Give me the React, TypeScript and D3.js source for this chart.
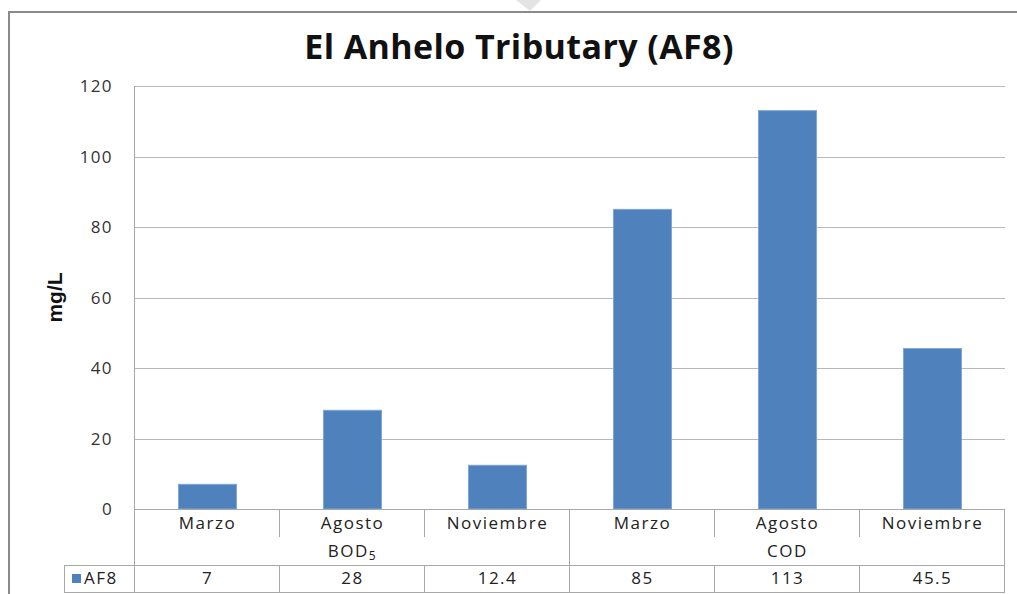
import React from 'react'
import * as d3 from 'd3'

// valores
const months = ['Marzo', 'Agosto', 'Noviembre', 'Marzo', 'Agosto', 'Noviembre']
const groups = ['BOD', 'COD']
const af8 = [7, 28, 12.4, 85, 113, 45.5]
const valueLabels = ['7', '28', '12.4', '85', '113', '45.5']
const yTicks = [0, 20, 40, 60, 80, 100, 120]

const W = 1017
const H = 594
const left = 135
const right = 1005
const top = 86
const bottom = 509
const blue = '#4F81BD'
const font = '"Open Sans", "DejaVu Sans", sans-serif'
const fs = 17
const ls = 1.5

export default function App() {
	const x = d3.scaleBand<number>().domain(d3.range(months.length)).range([left, right]).paddingInner(0).paddingOuter(0)
	const y = d3.scaleLinear().domain([0, 120]).range([bottom, top])
	const bw = x.bandwidth()
	const barW = bw * 0.4

	const row1 = bottom + 28
	const row2 = row1 + 28
	const row3 = row2 + 27

	return (
		<svg width={W} height={H} style={{ position: 'absolute', left: 0, top: 0, background: '#fff' }}>
			{/* marco exterior */}
			<polygon points="516,0 541,0 530,11" fill="#e4e4e4" />
			<line x1={8} y1={12} x2={W} y2={12} stroke="#8a8a8a" strokeWidth={2} />
			<line x1={9} y1={12} x2={9} y2={H} stroke="#8a8a8a" strokeWidth={2} />

			<text x={519} y={59} textAnchor="middle" fontFamily={font} fontWeight="bold" fontSize={34} letterSpacing={0.4} fill="#111">
				El Anhelo Tributary (AF8)
			</text>

			{/* grilla */}
			{yTicks.map(t => (
				<g key={t}>
					<line x1={left} x2={right} y1={Math.round(y(t)) + 0.5} y2={Math.round(y(t)) + 0.5} stroke="#b8b8b8" />
					<text x={113} y={y(t)} dy="0.36em" textAnchor="end" fontFamily={font} fontSize={fs} fill="#333" letterSpacing={1.4}>
						{t}
					</text>
				</g>
			))}
			<line x1={left - 0.5} x2={left - 0.5} y1={top} y2={row3} stroke="#a8a8a8" />

			<text transform={`translate(62,${(top + bottom) / 2}) rotate(-90)`} textAnchor="middle" fontFamily='"Liberation Sans", Arial, sans-serif' fontWeight="bold" fontSize={21} fill="#111">
				mg/L
			</text>

			{/* barras */}
			{af8.map((v, i) => (
				<rect key={i} x={x(i)! + (bw - barW) / 2} y={y(v)} width={barW} height={y(0) - y(v)} fill={blue} stroke="#7ea6d8" strokeWidth={1} />
			))}

			{/* tabla de datos */}
			<line x1={left} x2={right} y1={bottom + 0.5} y2={bottom + 0.5} stroke="#a8a8a8" />
			<line x1={64} x2={right} y1={row2 + 0.5} y2={row2 + 0.5} stroke="#a8a8a8" />
			<line x1={64} x2={right} y1={row3 + 0.5} y2={row3 + 0.5} stroke="#a8a8a8" />
			<line x1={64.5} x2={64.5} y1={row2} y2={row3} stroke="#a8a8a8" />
			{months.map((m, i) => {
				const x0 = x(i)!
				const isGroupEdge = i === 3
				return (
					<g key={i}>
						{i > 0 && (
							<>
								<line x1={x0 - 0.5} x2={x0 - 0.5} y1={bottom} y2={isGroupEdge ? row3 : row1} stroke="#a8a8a8" />
								{!isGroupEdge && <line x1={x0 - 0.5} x2={x0 - 0.5} y1={row2} y2={row3} stroke="#a8a8a8" />}
							</>
						)}
						<text x={x0 + bw / 2} y={bottom + 14} dy="0.36em" textAnchor="middle" fontFamily={font} fontSize={fs} fill="#222" letterSpacing={ls}>
							{m}
						</text>
						<text x={x0 + bw / 2} y={row2 + 13} dy="0.36em" textAnchor="middle" fontFamily={font} fontSize={fs} fill="#222" letterSpacing={ls}>
							{valueLabels[i]}
						</text>
					</g>
				)
			})}
			<line x1={right - 0.5} x2={right - 0.5} y1={bottom} y2={row3} stroke="#a8a8a8" />
			{groups.map((g, gi) => {
				const cx = (x(gi * 3)! + x(gi * 3 + 2)! + bw) / 2
				return (
					<text key={g} x={cx} y={row1 + 14} dy="0.36em" textAnchor="middle" fontFamily={font} fontSize={fs} fill="#222" letterSpacing={ls}>
						{g}
						{g === 'BOD' && <tspan fontSize={12} dy="0.25em">5</tspan>}
					</text>
				)
			})}
			<rect x={72} y={574} width={9} height={9} fill={blue} />
			<text x={84} y={row2 + 13} dy="0.36em" fontFamily={font} fontSize={fs} fill="#222" letterSpacing={ls}>
				AF8
			</text>
		</svg>
	)
}
